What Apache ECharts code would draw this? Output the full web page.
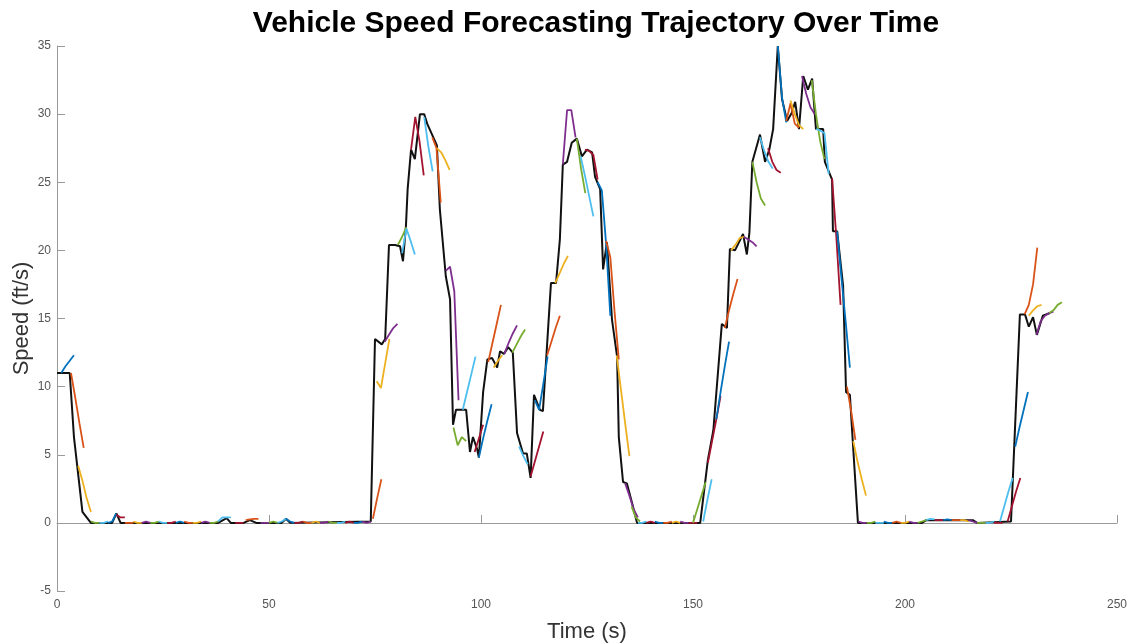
<!DOCTYPE html>
<html>
<head>
<meta charset="utf-8">
<title>Vehicle Speed Forecasting Trajectory Over Time</title>
<script src="https://cdn.jsdelivr.net/npm/echarts@6/dist/echarts.min.js"></script>
<style>
  html, body { margin: 0; padding: 0; background: #fff; }
  #chart { width: 1133px; height: 643px; }
</style>
</head>
<body>
<div id="chart"></div>
<script>
// measured speed [time s, speed ft/s]
const actual = [
  [0, 11], [1, 11], [3, 11], [4, 6.3], [6, 0.8], [8, 0], [13, 0], [14, 0.7], [15, 0],
  [38, 0], [40, 0.35], [41, 0], [44, 0], [45.5, 0.2], [47, 0], [53, 0], [54, 0.3], [55, 0],
  [74, 0.1], [75, 13.5], [76.6, 13.1], [77.4, 13.5], [78.3, 20.4], [79.7, 20.4], [80.9, 20.3],
  [81.6, 19.2], [82.3, 21.8], [82.7, 24.5], [83.5, 27.4], [84.4, 26.7], [85.6, 30.0], [86.6, 30.0],
  [87.3, 29.3], [89.6, 27.7], [90.3, 23.0], [91.7, 18.1], [92.7, 16.4], [93.4, 7.2], [94.1, 8.3],
  [96.5, 8.3], [97.4, 5.2], [98.1, 6.3], [99.1, 5.4], [99.5, 4.8], [100.5, 9.6], [101.5, 12.0],
  [102.6, 12.1], [103.8, 11.4], [104.5, 12.6], [105.4, 12.4], [106.4, 12.9], [107.5, 12.5],
  [108.5, 6.6], [109.9, 5.1], [110.8, 5.1], [111.7, 3.3], [112.5, 9.4], [113.9, 8.3], [114.6, 8.2],
  [116.5, 17.6], [117.7, 17.6], [118.6, 20.8], [119.3, 26.3], [120.3, 26.5], [121.4, 27.9],
  [122.6, 28.2], [123.8, 26.9], [125, 27.4], [126.2, 27.2], [126.9, 25.4], [128.1, 24.5],
  [128.8, 18.6], [129.7, 20.6], [130.9, 14.9], [132.1, 12.2], [132.5, 6.3], [133.5, 3.0],
  [134.4, 2.9], [135.6, 1.5], [136.8, 0], [151.7, 0], [153.5, 4.6], [154.8, 6.8], [156.8, 14.6],
  [158, 14.3], [158.7, 20.1], [159.9, 20.0], [161.8, 21.2], [162.7, 19.7], [163.3, 21.3],
  [164, 26.5], [165.8, 28.5], [167, 26.5], [168, 27.4], [168.9, 28.9], [170, 35.0], [171, 31.1],
  [172.2, 29.5], [173.3, 30.1], [174.1, 30.9], [175, 28.9], [176, 32.8], [177.1, 31.8],
  [178.1, 32.6], [179, 28.9], [180.7, 28.9], [181.1, 26.5], [182.8, 25.2], [183, 21.4],
  [184, 21.4], [185.4, 17.4], [186.1, 9.6], [187, 9.4], [187.7, 5.9], [188.9, 0], [204, 0],
  [205, 0.2], [216, 0.2], [217, 0], [225, 0.1], [227.1, 15.3], [228.3, 15.3], [229.2, 14.4],
  [230.2, 15.1], [231.1, 13.8], [232.5, 15.2], [234.2, 15.4]
];

// forecast rows: [colour, start time, speed at start, +1 s, +2 s, ...]
const forecastsLaunch = [
  ['b', 1, 11, 11.5, 11.9, 12.3], ['o', 3.3, 11, 9.2, 7.3, 5.5], ['y', 5, 4.2, 3.1, 1.8, 0.8]
];
const forecastsIdle1 = [
  ['g', 8, 0.1, 0, 0], ['c', 10, 0, 0, 0.1], ['b', 12, 0, 0.1, 0.7], ['r', 14, 0.6, 0.4, 0.4],
  ['o', 16, 0, 0, 0], ['y', 18, 0.1, 0, 0], ['p', 20, 0, 0.1, 0], ['g', 22, 0, 0, 0.1],
  ['c', 24, 0.1, 0, 0], ['r', 26, 0, 0, 0.1], ['b', 28, 0, 0.1, 0], ['o', 30, 0.1, 0, 0],
  ['y', 32, 0, 0, 0.1], ['p', 34, 0, 0.1, 0], ['g', 36, 0, 0, 0.1], ['c', 38, 0.1, 0.4, 0.4, 0.4],
  ['r', 42, 0, 0, 0], ['o', 44.5, 0.2, 0.25, 0.3, 0.3], ['p', 48, 0, 0, 0], ['g', 50, 0, 0.1, 0],
  ['c', 52, 0, 0.1, 0.3], ['b', 54, 0.3, 0.1, 0], ['r', 56, 0, 0, 0.1], ['o', 58, 0.1, 0, 0],
  ['y', 60, 0, 0.1, 0], ['p', 62, 0, 0, 0.1], ['g', 64, 0.1, 0, 0], ['c', 66, 0, 0, 0.1],
  ['r', 68, 0, 0.1, 0], ['b', 70, 0, 0, 0.1], ['p', 72, 0.1, 0, 0.1]
];
const forecastsPeak1 = [
  ['o', 74.5, 0.3, 1.8, 3.2], ['y', 75.4, 10.4, 9.9, 11.7, 13.5], ['p', 77.3, 13.3, 13.8, 14.3, 14.6],
  ['g', 80.4, 20.4, 21.0, 21.7], ['c', 81.4, 19.8, 21.6, 20.7, 19.7], ['r', 83.5, 27.4, 29.8, 28.0, 25.5],
  ['c', 86.6, 29.8, 27.6, 25.8], ['o', 88.5, 28.3, 27.5, 23.5], ['y', 89.6, 27.5, 27.2, 26.6, 25.9],
  ['p', 91.7, 18.5, 18.8, 17.0, 9.0], ['g', 93.5, 7.0, 5.7, 6.3, 6.0], ['c', 95.7, 8.3, 9.6, 10.9, 12.2],
  ['r', 98.5, 5.2, 6.2, 7.2], ['b', 99.5, 4.8, 6.2, 7.5, 8.7], ['o', 101.7, 11.8, 13.2, 14.6, 16.0],
  ['y', 103, 11.4, 11.9, 12.3], ['p', 105.5, 12.4, 13.2, 13.9, 14.5], ['g', 107.4, 12.5, 13.1, 13.7, 14.2]
];
const forecastsPeak2 = [
  ['c', 109, 5.6, 4.9, 4.3], ['r', 111.7, 3.4, 4.5, 5.6, 6.7], ['b', 112.7, 9.0, 8.3, 10.2, 12.2],
  ['o', 115.6, 12.3, 13.3, 14.3, 15.2], ['y', 117.5, 17.6, 18.3, 19.0, 19.6],
  ['p', 119.3, 26.3, 30.3, 30.3, 28.3], ['g', 122.6, 28.2, 26.0, 24.2], ['c', 123.5, 26.9, 25.5, 24.0, 22.5],
  ['r', 124.5, 27.4, 27.3, 27.0, 25.2], ['b', 127.5, 25.0, 24.4, 20.5, 15.2],
  ['o', 129.5, 20.7, 19.5, 15.5, 12.0], ['y', 132, 12.3, 9.8, 7.3, 4.9], ['p', 134, 2.9, 2.0, 1.0, 0.4],
  ['g', 135.5, 1.2, 0.4, 0.1]
];
const forecastsIdle2 = [
  ['c', 137, 0, 0, 0.1], ['r', 139, 0, 0.1, 0], ['b', 141, 0.1, 0, 0], ['o', 143, 0, 0, 0.1],
  ['y', 145, 0, 0.1, 0], ['p', 147, 0.1, 0, 0], ['r', 149, 0, 0, 0]
];
const forecastsPeak3 = [
  ['g', 150, 0, 1.0, 2.0, 3.0], ['c', 152.4, 0.1, 1.7, 3.2], ['r', 153.5, 4.4, 6.0, 7.6, 9.3],
  ['b', 155.5, 7.6, 9.6, 11.5, 13.3], ['o', 157.5, 14.3, 15.6, 16.8, 17.9], ['y', 159, 20.0, 20.4, 20.9, 21.0],
  ['p', 162, 21.0, 20.8, 20.6, 20.3], ['g', 164, 26.5, 25.0, 23.8, 23.3], ['c', 165.8, 28.3, 27.3, 26.5, 26.0],
  ['r', 167.7, 27.5, 26.5, 25.9, 25.7], ['b', 170, 35.0, 31.2, 29.4], ['o', 172, 29.5, 30.8, 29.3, 29.0],
  ['y', 173, 31.0, 30.0, 29.2, 28.9], ['p', 175.7, 32.8, 31.5, 30.5, 30.0], ['g', 178, 32.5, 30.0, 28.0, 26.7],
  ['c', 179, 28.9, 28.8, 28.6, 25.6], ['r', 182.8, 25.3, 21.0, 16.0], ['b', 184, 21.4, 18.0, 14.8, 11.4],
  ['o', 186.3, 10.0, 8.2, 6.1], ['y', 187.8, 6.0, 4.5, 3.2, 2.0]
];
const forecastsIdle3 = [
  ['p', 189, 0.1, 0, 0], ['g', 191, 0, 0, 0.1], ['c', 193, 0, 0, 0], ['b', 195, 0.1, 0, 0],
  ['o', 197, 0, 0.1, 0], ['y', 199, 0, 0, 0.1], ['p', 201, 0.1, 0, 0], ['g', 203, 0, 0.1, 0.2],
  ['c', 205, 0.2, 0.3, 0.25], ['r', 207, 0.2, 0.2, 0.2], ['b', 209, 0.2, 0.25, 0.2], ['o', 211, 0.2, 0.2, 0.2],
  ['y', 213, 0.2, 0.2, 0.1], ['p', 215, 0.2, 0.1, 0], ['g', 217, 0, 0, 0], ['c', 219, 0, 0, 0.1],
  ['r', 221, 0, 0, 0]
];
const forecastsEnd = [
  ['c', 222.4, 0.1, 1.2, 2.3, 3.3], ['r', 224.2, 0.1, 1.2, 2.3, 3.3], ['b', 226, 5.6, 7.0, 8.3, 9.6],
  ['o', 228.2, 15.3, 16.0, 17.5, 20.2], ['y', 229.2, 15.2, 15.6, 15.9, 16.0],
  ['p', 231, 13.8, 14.8, 15.2, 15.4, 15.5], ['g', 234, 15.4, 15.6, 16.0, 16.2]
];

// matlab default line colours
const palette = {
  b: '#0072BD', o: '#D95319', y: '#EDB120', p: '#7E2F8E',
  g: '#77AC30', c: '#4DBEEE', r: '#A2142F'
};

const allForecasts = [].concat(forecastsLaunch, forecastsIdle1, forecastsPeak1, forecastsPeak2,
  forecastsIdle2, forecastsPeak3, forecastsIdle3, forecastsEnd);

const forecastSeries = allForecasts.map(row => {
  const [key, t0, ...vals] = row;
  return {
    type: 'line',
    data: vals.map((v, i) => [t0 + i, v]),
    showSymbol: false,
    silent: true,
    z: 3,
    lineStyle: { color: palette[key], width: 1.8 }
  };
});

const chart = echarts.init(document.getElementById('chart'));
const axisGray = '#9a9a9a';
chart.setOption({
  animation: false,
  backgroundColor: '#fff',
  title: {
    text: 'Vehicle Speed Forecasting Trajectory Over Time',
    left: 591,
    textAlign: 'center',
    top: 4,
    textStyle: { fontFamily: 'Liberation Sans', fontSize: 30, fontWeight: 'bold', color: '#000' }
  },
  grid: { left: 57, right: 16, top: 46, bottom: 52, outerBoundsMode: 'none' },
  xAxis: {
    type: 'value',
    min: 0, max: 250, interval: 50,
    name: 'Time (s)',
    nameLocation: 'middle',
    nameGap: 30,
    nameTextStyle: { fontFamily: 'Liberation Sans', fontSize: 22, color: '#333' },
    axisLine: { show: true, lineStyle: { color: axisGray, width: 1 } },
    axisTick: { show: true, inside: true, length: 8, lineStyle: { color: axisGray } },
    axisLabel: { fontFamily: 'Liberation Sans', fontSize: 12, color: '#555', margin: 8 },
    splitLine: { show: false }
  },
  yAxis: {
    type: 'value',
    min: -5, max: 35, interval: 5,
    name: 'Speed (ft/s)',
    nameLocation: 'middle',
    nameGap: 24,
    nameMoveOverlap: false,
    nameTextStyle: { fontFamily: 'Liberation Sans', fontSize: 22, color: '#333' },
    axisLine: { show: true, lineStyle: { color: axisGray, width: 1 } },
    axisTick: { show: true, inside: true, length: 8, lineStyle: { color: axisGray } },
    axisLabel: { fontFamily: 'Liberation Sans', fontSize: 12, color: '#555', margin: 6 },
    splitLine: { show: false }
  },
  series: [
    {
      name: 'Actual',
      type: 'line',
      data: actual,
      showSymbol: false,
      silent: true,
      z: 2,
      lineStyle: { color: '#111', width: 2 }
    }
  ].concat(forecastSeries)
});
</script>
</body>
</html>
